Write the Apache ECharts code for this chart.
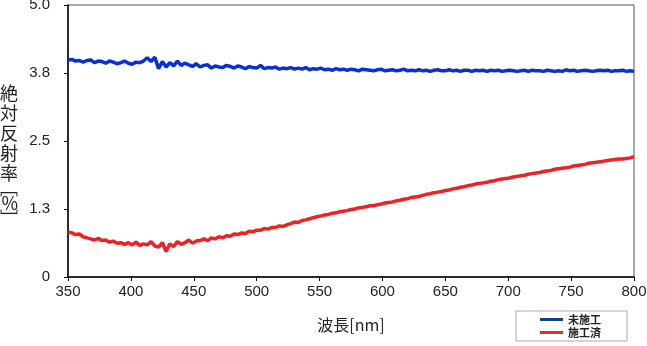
<!DOCTYPE html>
<html>
<head>
<meta charset="utf-8">
<title>反射率</title>
<script src="https://cdn.jsdelivr.net/npm/echarts@6/dist/echarts.min.js"></script>
<style>
    html, body {margin: 0; padding: 0; background: #fff;}
    #graph {width: 647px; height: 346px;}
</style>
</head>
<body>
<div id="graph"></div>
<script>
// 波長 (nm)
var wavelengths = [
    350, 353, 356, 359, 362, 365, 368, 371, 374, 377, 380,
    383, 386, 389, 392, 395, 398, 401, 404, 407, 410,
    413, 416, 419, 422, 425, 428, 431, 434, 437, 440,
    443, 446, 449, 452, 455, 458, 461, 464, 467, 470,
    473, 476, 479, 482, 485, 488, 491, 494, 497, 500,
    503, 506, 509, 512, 515, 518, 521, 524, 527, 530,
    533, 536, 539, 542, 545, 548, 551, 554, 557, 560,
    563, 566, 569, 572, 575, 578, 581, 584, 587, 590,
    593, 596, 599, 602, 605, 608, 611, 614, 617, 620,
    623, 626, 629, 632, 635, 638, 641, 644, 647, 650,
    653, 656, 659, 662, 665, 668, 671, 674, 677, 680,
    683, 686, 689, 692, 695, 698, 701, 704, 707, 710,
    713, 716, 719, 722, 725, 728, 731, 734, 737, 740,
    743, 746, 749, 752, 755, 758, 761, 764, 767, 770,
    773, 776, 779, 782, 785, 788, 791, 794, 797, 800
];

// 未施工
var untreated = [
    3.99, 4.00, 3.97, 3.98, 3.95, 3.98, 3.99, 3.94, 3.97, 3.96, 3.93,
    3.97, 3.95, 3.92, 3.94, 3.97, 3.93, 3.91, 3.95, 3.94, 3.97,
    4.03, 3.96, 4.04, 3.83, 3.96, 3.86, 3.94, 3.88, 3.97, 3.89,
    3.93, 3.90, 3.87, 3.92, 3.86, 3.89, 3.90, 3.84, 3.88, 3.86,
    3.85, 3.89, 3.87, 3.84, 3.88, 3.86, 3.83, 3.87, 3.85, 3.84,
    3.89, 3.83, 3.85, 3.84, 3.86, 3.82, 3.84, 3.83, 3.85, 3.82,
    3.84, 3.82, 3.85, 3.81, 3.83, 3.82, 3.84, 3.81, 3.82, 3.80,
    3.83, 3.81, 3.82, 3.80, 3.82, 3.81, 3.79, 3.82, 3.81, 3.80,
    3.79, 3.81, 3.82, 3.79, 3.80, 3.81, 3.79, 3.80, 3.82, 3.79,
    3.80, 3.79, 3.81, 3.79, 3.80, 3.78, 3.80, 3.81, 3.79, 3.79,
    3.81, 3.79, 3.80, 3.78, 3.80, 3.80, 3.78, 3.80, 3.79, 3.80,
    3.78, 3.80, 3.79, 3.80, 3.78, 3.79, 3.80, 3.79, 3.78, 3.79,
    3.80, 3.78, 3.80, 3.79, 3.79, 3.78, 3.80, 3.79, 3.78, 3.79,
    3.78, 3.81, 3.79, 3.80, 3.78, 3.79, 3.80, 3.79, 3.78, 3.79,
    3.80, 3.79, 3.80, 3.78, 3.79, 3.79, 3.80, 3.78, 3.79, 3.78
];

// 施工済
var treated = [
    0.83, 0.81, 0.78, 0.79, 0.74, 0.72, 0.70, 0.68, 0.71, 0.67, 0.68,
    0.64, 0.66, 0.62, 0.63, 0.60, 0.63, 0.59, 0.64, 0.58, 0.61,
    0.59, 0.65, 0.57, 0.55, 0.63, 0.47, 0.61, 0.56, 0.65, 0.60,
    0.63, 0.68, 0.62, 0.66, 0.67, 0.70, 0.67, 0.72, 0.70, 0.74,
    0.72, 0.76, 0.75, 0.79, 0.78, 0.81, 0.80, 0.84, 0.83, 0.86,
    0.86, 0.89, 0.88, 0.91, 0.91, 0.94, 0.93, 0.96, 0.98, 1.01,
    1.00, 1.04, 1.05, 1.07, 1.09, 1.11, 1.12, 1.14, 1.15, 1.17,
    1.18, 1.20, 1.21, 1.22, 1.24, 1.25, 1.27, 1.28, 1.29, 1.31,
    1.31, 1.33, 1.34, 1.36, 1.37, 1.38, 1.40, 1.41, 1.43, 1.44,
    1.46, 1.47, 1.48, 1.50, 1.52, 1.53, 1.55, 1.56, 1.57, 1.59,
    1.60, 1.62, 1.63, 1.65, 1.66, 1.68, 1.69, 1.71, 1.72, 1.73,
    1.74, 1.76, 1.77, 1.79, 1.80, 1.81, 1.82, 1.84, 1.85, 1.86,
    1.87, 1.89, 1.90, 1.91, 1.92, 1.94, 1.95, 1.96, 1.98, 1.99,
    2.00, 2.01, 2.02, 2.04, 2.05, 2.06, 2.07, 2.09, 2.10, 2.11,
    2.12, 2.13, 2.14, 2.15, 2.16, 2.17, 2.17, 2.18, 2.19, 2.21
];

var seriesNames = ['未施工', '施工済'];

var numFont = '"Liberation Sans", Arial, sans-serif';
var jpFont = '"Noto Sans CJK JP", sans-serif';

// [x, y] の組にする
function pairs(ys) {
    return wavelengths.map(function (w, i) {
        return [w, ys[i]];
    });
}

var chart = echarts.init(document.getElementById('graph'));

var option = {
    animation: false,
    backgroundColor: '#fff',
    grid: {
        left: 68,
        right: 13,
        top: 5,
        bottom: 69,
        outerBoundsMode: 'none',
        containLabel: false,
        show: true,
        borderColor: '#555',
        borderWidth: 1
    },
    legend: {
        orient: 'vertical',
        left: 516,
        top: 311,
        padding: [3, 26, 3, 24],
        itemGap: 2,
        itemWidth: 23,
        itemHeight: 3,
        icon: 'rect',
        borderColor: '#aaa',
        borderWidth: 1,
        borderRadius: 0,
        backgroundColor: '#fff',
        textStyle: {fontFamily: jpFont, fontSize: 11, color: '#222', fontWeight: 'bold'},
        data: [
            {name: seriesNames[0], itemStyle: {color: '#163f94'}},
            {name: seriesNames[1], itemStyle: {color: '#d8303a'}}
        ]
    },
    xAxis: {
        type: 'value',
        min: 350,
        max: 800,
        interval: 50,
        name: '波長[nm]',
        nameLocation: 'middle',
        nameGap: 40,
        nameTextStyle: {fontFamily: jpFont, fontSize: 16, color: '#222'},
        axisLine: {lineStyle: {color: '#000', width: 1.5}},
        axisTick: {show: true, length: 4, lineStyle: {color: '#000'}},
        axisLabel: {fontFamily: numFont, fontSize: 15, color: '#222', margin: 7},
        splitLine: {show: false}
    },
    yAxis: {
        type: 'value',
        min: 0,
        max: 5,
        interval: 1.25,
        name: '{a|絶}\n{a|対}\n{a|反}\n{a|射}\n{a|率}\n{b|﹇}\n{a|%}\n{b|﹈}',
        nameLocation: 'middle',
        nameRotate: 0,
        nameGap: 50,
        nameTextStyle: {
            padding: [24, 0, 0, 0],
            rich: {
                a: {fontFamily: jpFont, fontSize: 18, lineHeight: 20, color: '#222'},
                b: {fontFamily: jpFont, fontSize: 18, lineHeight: 10, color: '#222'}
            }
        },
        axisLine: {show: true, lineStyle: {color: '#000', width: 1.5}},
        axisTick: {show: true, length: 4, lineStyle: {color: '#000'}},
        axisLabel: {
            fontFamily: numFont,
            fontSize: 15,
            color: '#222',
            margin: 18,
            formatter: function (v) {
                return v === 0 ? '0' : v.toFixed(1);
            }
        },
        splitLine: {show: false}
    },
    series: [{
        name: seriesNames[0],
        type: 'line',
        showSymbol: false,
        lineStyle: {color: '#0a2fd4', width: 3.5},
        itemStyle: {color: '#0a2fd4'},
        data: pairs(untreated)
    }, {
        name: seriesNames[1],
        type: 'line',
        showSymbol: false,
        lineStyle: {color: '#ee2222', width: 3.5},
        itemStyle: {color: '#ee2222'},
        data: pairs(treated)
    }]
};

chart.setOption(option);
</script>
</body>
</html>
